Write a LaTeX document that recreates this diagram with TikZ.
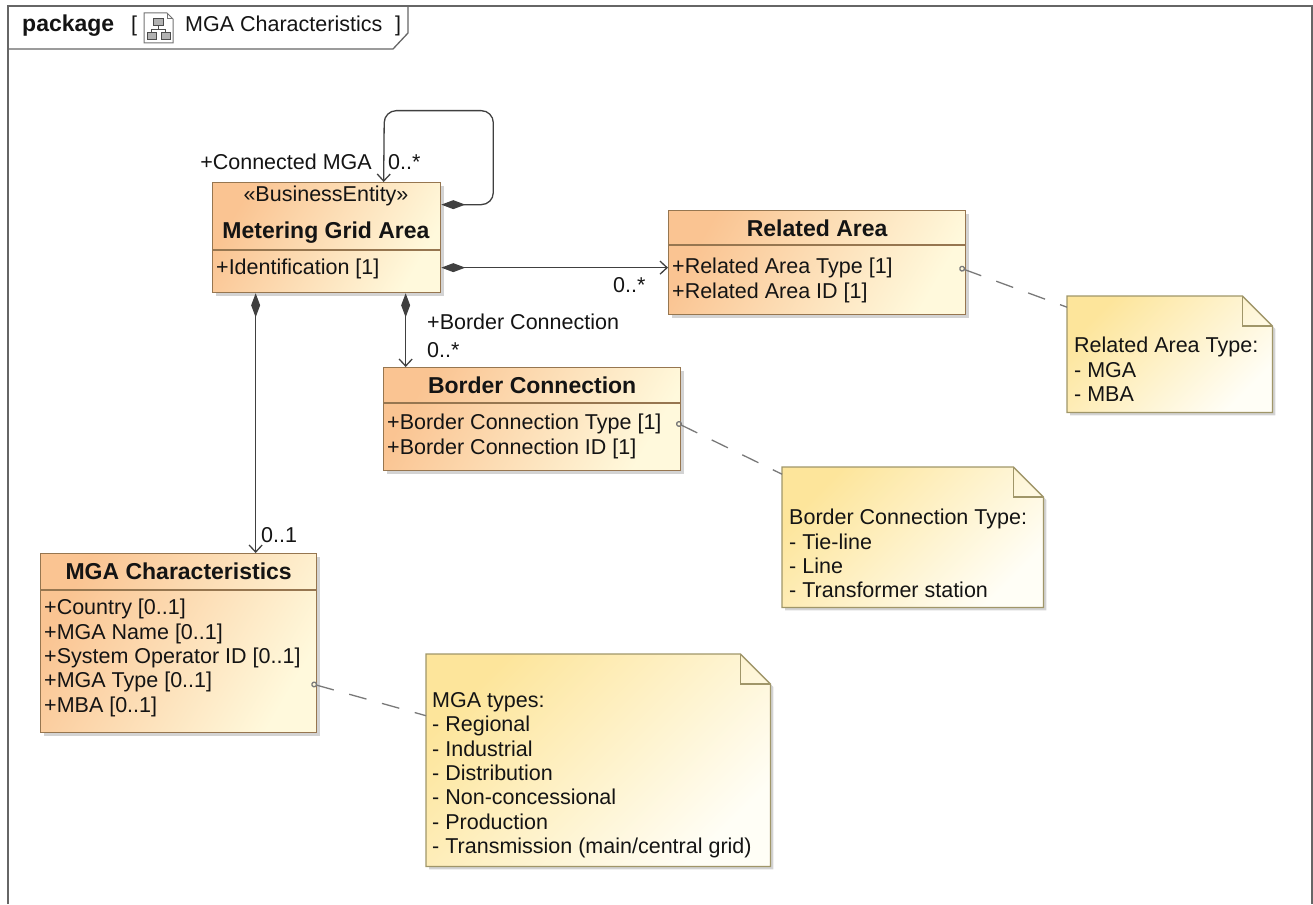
\documentclass[tikz,border=0pt]{standalone}
\usepackage{fontspec}
\setmainfont{Liberation Sans}
\usetikzlibrary{arrows.meta,shadows}

\definecolor{clsA}{RGB}{250,196,146}
\definecolor{clsB}{RGB}{255,249,220}
\definecolor{clsline}{RGB}{150,118,80}
\definecolor{noteA}{RGB}{253,229,155}
\definecolor{noteB}{RGB}{255,254,246}
\definecolor{noteline}{RGB}{160,150,105}
\definecolor{linec}{RGB}{64,64,64}
\definecolor{txtc}{RGB}{20,20,20}

\newcommand{\umlfont}{\fontsize{21.5}{24.4}\selectfont}
\newcommand{\umlbold}{\fontsize{23}{26}\selectfont\bfseries}

\begin{document}
\begin{tikzpicture}[x=1pt, y=1pt,
    every node/.style={inner sep=0pt, font=\umlfont, text=txtc},
    clsbox/.style={rectangle, draw=clsline, line width=1.3pt, anchor=north west,
                   left color=clsA, right color=clsB, shading angle=60,
                   drop shadow={shadow xshift=3pt, shadow yshift=-3pt, opacity=.35}},
    notebox/.style={rectangle, anchor=north west},
    noteshape/.style={draw=noteline, line width=1.3pt, left color=noteA, right color=noteB,
                      shading angle=45,
                      drop shadow={shadow xshift=3pt, shadow yshift=-3pt, opacity=.35}},
    fold/.style={draw=noteline, line width=1.3pt},
    divider/.style={draw=clsline, line width=1.3pt},
    clstitle/.style={anchor=base, font=\umlbold},
    attrs/.style={anchor=north west, align=left},
    mult/.style={anchor=base west},
    assoc/.style={draw=linec, line width=1.3pt},
    comp/.style={assoc, {Diamond[length=24pt, width=9pt]}-{Straight Barb[length=7pt, width=13pt]}},
    notelink/.style={draw=linec!70, line width=1.3pt, dash pattern=on 18pt off 16pt,
                     {Circle[open, length=6pt, width=6pt]}-}
]
\useasboundingbox (0,0) rectangle (1313,-904);

% package frame and header tab
\draw [line width=1.3pt, draw=linec!80] (8,-904) -- (8,-6) -- (1312,-6) -- (1312,-904);
\draw [line width=1.3pt, draw=linec!80] (8,-49) -- (393,-49) -- (408,-33) -- (408,-6);
\node (pkgkw) [mult, font=\umlbold] at (22,-32) {package};
\node (pkgopen) [mult] at (131,-32) {[};
\node (pkgname) [mult] at (185,-32) {MGA Characteristics};
\node (pkgclose) [mult] at (395,-32) {]};
% diagram icon
\draw [line width=1pt, draw=black!55, fill=white] (144,-13) -- (167,-13) -- (173,-19) -- (173,-43) -- (144,-43) -- cycle;
\draw [line width=1pt, draw=black!55] (167,-13) |- (173,-19);
\draw [line width=1pt, draw=black!70, fill=black!30] (153,-19) rectangle (163,-26);
\draw [line width=1pt, draw=black!70, fill=black!30] (147,-33) rectangle (156,-40);
\draw [line width=1pt, draw=black!70, fill=black!30] (161,-33) rectangle (170,-40);
\draw [line width=1pt, draw=black!70] (158,-26) -- (158,-30) (151.5,-33) |- (165.5,-30) -- (165.5,-33);

% classes
\node (mga) [clsbox, minimum width=228pt, minimum height=110pt] at (212,-182) {};
\node (mgaSt) [anchor=base] at (326,-201.5) {«BusinessEntity»};
\node (mgaT) [clstitle] at (326,-238) {Metering Grid Area};
\draw [divider] (mga.west |- 0,-250) -- (mga.east |- 0,-250);
\node (mgaA) [attrs] at (216,-259) {+Identification [1]};

\node (rel) [clsbox, minimum width=297pt, minimum height=104pt] at (668,-210) {};
\node (relT) [clstitle] at (rel.center |- 0,-236) {Related Area};
\draw [divider] (rel.west |- 0,-245) -- (rel.east |- 0,-245);
\node (relA) [attrs] at (672,-258) {+Related Area Type [1]\\+Related Area ID [1]};

\node (bcon) [clsbox, minimum width=297pt, minimum height=103pt] at (383,-367) {};
\node (bconT) [clstitle] at (bcon.center |- 0,-393) {Border Connection};
\draw [divider] (bcon.west |- 0,-403) -- (bcon.east |- 0,-403);
\node (bconA) [attrs] at (387,-414) {+Border Connection Type [1]\\+Border Connection ID [1]};

\node (mchar) [clsbox, minimum width=276pt, minimum height=179pt] at (40,-553) {};
\node (mcharT) [clstitle] at (mchar.center |- 0,-579) {MGA Characteristics};
\draw [divider] (mchar.west |- 0,-590) -- (mchar.east |- 0,-590);
\node (mcharA) [attrs] at (44,-599) {+Country [0..1]\\+MGA Name [0..1]\\+System Operator ID [0..1]\\+MGA Type [0..1]\\+MBA [0..1]};

% notes
\node (rnote) [notebox, minimum width=205pt, minimum height=116pt] at (1067,-296) {};
\path [noteshape] (rnote.north west) -- ([xshift=-30pt]rnote.north east) -- ([yshift=-30pt]rnote.north east)
    -- (rnote.south east) -- (rnote.south west) -- cycle;
\draw [fold] ([xshift=-30pt]rnote.north east) |- ([yshift=-30pt]rnote.north east);
\node (rnoteT) [attrs] at (1074,-337) {Related Area Type:\\- MGA\\- MBA};

\node (bnote) [notebox, minimum width=261pt, minimum height=140pt] at (782,-467) {};
\path [noteshape] (bnote.north west) -- ([xshift=-30pt]bnote.north east) -- ([yshift=-30pt]bnote.north east)
    -- (bnote.south east) -- (bnote.south west) -- cycle;
\draw [fold] ([xshift=-30pt]bnote.north east) |- ([yshift=-30pt]bnote.north east);
\node (bnoteT) [attrs] at (789,-509) {Border Connection Type:\\- Tie-line\\- Line\\- Transformer station};

\node (mnote) [notebox, minimum width=344pt, minimum height=212pt] at (426,-654) {};
\path [noteshape] (mnote.north west) -- ([xshift=-30pt]mnote.north east) -- ([yshift=-30pt]mnote.north east)
    -- (mnote.south east) -- (mnote.south west) -- cycle;
\draw [fold] ([xshift=-30pt]mnote.north east) |- ([yshift=-30pt]mnote.north east);
\node (mnoteT) [attrs] at (432,-692) {MGA types:\\- Regional\\- Industrial\\- Distribution\\- Non-concessional\\- Production\\- Transmission (main/central grid)};

% associations
\draw [comp, rounded corners=12pt] ([yshift=33pt]mga.east) -- ++(52,0) -- ++(0,94) -- ++(-109,0) -- ([xshift=57pt]mga.north);
\draw [comp] ([yshift=-30pt]mga.east) -- ([yshift=-30pt]mga.east -| rel.west);
\draw [comp] ([xshift=79pt]mga.south) -- ([xshift=79pt]mga.south |- bcon.north);
\draw [comp] ([xshift=-71pt]mga.south) -- ([xshift=-71pt]mga.south |- mchar.north);

\node (connRole) [anchor=base east] at (372,-169.5) {+Connected MGA};
\node (connMult) [mult] at (388,-169.5) {0..*};
\node (relMult) [mult] at (613,-292.5) {0..*};
\node (bconRole) [mult] at (427,-329.5) {+Border Connection};
\node (bconMult) [mult] at (427,-357.5) {0..*};
\node (mcharMult) [mult] at (261,-542.5) {0..1};

% note links
\draw [notelink] ([xshift=-7pt, yshift=-5pt]rel.east) -- ([yshift=47pt]rnote.west);
\draw [notelink] ([xshift=-5pt, yshift=-3.5pt]bcon.east) -- ([yshift=63pt]bnote.west);
\draw [notelink] ([xshift=-6pt, yshift=-40.5pt]mchar.east) -- ([yshift=44.5pt]mnote.west);
\end{tikzpicture}
\end{document}
